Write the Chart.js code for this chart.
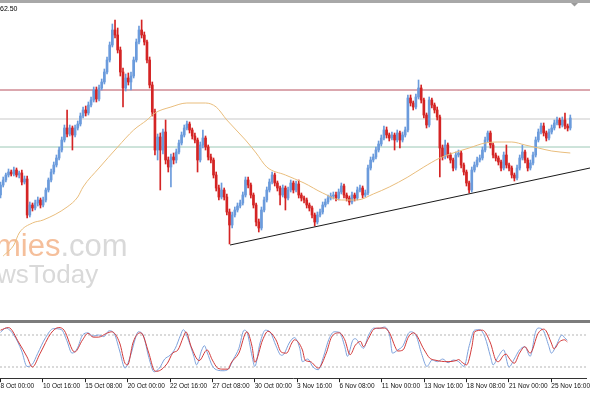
<!DOCTYPE html>
<html>
<head>
<meta charset="utf-8">
<script src="https://cdn.jsdelivr.net/npm/chart.js"></script>
<style>
  body { margin: 0; background: #fff; }
  #wrap { position: relative; width: 590px; height: 393px; overflow: hidden; background: #fff; }
  #topbar { position: absolute; left: 0; top: 0; width: 590px; height: 3px; background: #a8a8a8; }
  #mainChart { position: absolute; left: 0; top: 3px; }
  #sep { position: absolute; left: 0; top: 320px; width: 590px; height: 3px; background: #7c7c7c; }
  #stochChart { position: absolute; left: 0; top: 323px; }
</style>
</head>
<body>
<div id="wrap">
  <div id="topbar"></div>
  <canvas id="mainChart" width="590" height="317"></canvas>
  <div id="sep"></div>
  <canvas id="stochChart" width="590" height="67"></canvas>
</div>
<script>
// H4 candles, price in chart points
const opens = [
  125,135,140,145,148,146,150,145,147,138, 141,105,115,112,117,120,115,120,130,140,
  148,155,162,170,180,192,186,192,185,192, 196,204,210,207,215,220,230,221,232,238,
  248,260,275,290,285,270,248,232,242,238, 244,260,278,290,285,278,260,235,208,170,
  183,170,188,160,153,163,160,168,177,185, 192,196,190,184,180,160,175,182,173,163,
  160,145,132,123,130,123,108,95,105,110, 114,117,125,140,135,125,115,98,92,110,
  120,130,138,145,137,132,125,132,122,130, 137,130,136,125,122,120,115,112,105,98,
  105,108,115,118,122,124,125,122,128,134, 125,122,118,125,122,130,132,125,127,152,
  160,163,170,176,182,190,185,182,185,180, 187,180,185,190,222,217,213,223,232,220,
  205,195,220,215,210,203,172,163,175,165, 160,152,165,167,155,148,137,130,150,155,
  160,162,170,180,187,175,165,162,158,152, 165,155,152,145,142,152,162,168,160,152,
  157,165,180,188,194,187,182,188,192,197, 200,195,200,194,192
];
const highs = [
  138,143,147,151,150,153,152,149,150,144, 144,118,117,120,123,122,123,132,142,151,
  158,165,173,183,195,210,195,194,195,199, 207,213,214,218,223,233,233,235,241,251,
  263,278,296,300,292,273,252,246,247,248, 263,281,294,300,288,280,263,238,211,186,
  187,191,200,163,166,167,171,180,188,195, 199,198,192,187,182,178,190,184,175,166,
  162,148,135,137,132,126,111,108,113,117, 120,128,143,143,137,127,117,101,113,123,
  133,141,148,147,139,134,135,134,133,140, 139,139,140,127,124,122,117,114,107,108,
  111,118,121,125,127,128,128,131,137,136, 127,124,128,127,133,135,134,130,155,163,
  166,173,179,185,194,193,187,188,187,190, 189,188,193,225,225,219,226,240,235,222,
  207,223,222,217,213,205,175,180,177,167, 162,168,170,169,157,150,139,153,158,163,
  165,173,183,189,189,177,167,164,160,168, 175,157,154,147,155,165,175,170,162,160,
  168,183,191,197,197,189,191,195,200,203, 202,203,207,196,205
];
const lows = [
  122,133,138,143,144,144,143,142,135,136, 102,103,109,110,114,112,113,118,128,138,
  146,153,160,168,178,183,184,170,183,190, 194,202,204,205,213,218,218,219,230,236,
  246,258,273,282,267,244,213,229,235,230, 242,258,276,282,275,257,232,204,165,160,
  130,166,156,148,133,156,157,166,175,183, 190,187,181,177,148,158,172,170,160,157,
  142,129,120,121,120,105,76,92,103,108, 112,115,123,132,122,112,94,88,90,108,
  118,128,136,134,129,115,123,110,120,128, 127,128,122,119,117,112,109,102,94,96,
  103,106,113,116,120,121,119,120,126,122, 119,115,116,119,120,128,122,123,125,150,
  158,161,168,174,180,182,179,180,170,178, 172,178,183,188,214,210,211,221,217,202,
  192,193,212,207,200,143,160,161,162,157, 149,150,163,152,145,134,127,128,148,153,
  158,160,168,178,172,162,159,155,149,150, 152,149,142,139,140,150,160,157,149,150,
  155,163,178,186,184,179,180,186,190,195, 192,193,191,189,190
];
const closes = [
  135,140,145,148,146,150,145,147,138,141, 105,115,112,117,120,115,120,130,140,148,
  155,162,170,180,192,186,192,185,192,196, 204,210,207,215,220,230,221,232,238,248,
  260,275,290,285,270,248,232,242,238,244, 260,278,290,285,278,260,235,208,170,183,
  170,188,160,153,163,160,168,177,185,192, 196,190,184,180,160,175,182,173,163,160,
  145,132,123,130,123,108,95,105,110,114, 117,125,140,135,125,115,98,92,110,120,
  130,138,145,137,132,125,132,122,130,137, 130,136,125,122,120,115,112,105,98,105,
  108,115,118,122,124,125,122,128,134,125, 122,118,125,122,130,132,125,127,152,160,
  163,170,176,182,190,185,182,185,180,187, 180,185,190,222,217,213,223,232,220,205,
  195,220,215,210,203,172,163,175,165,160, 152,165,167,155,148,137,130,150,155,160,
  162,170,180,187,175,165,162,158,152,165, 155,152,145,142,152,162,168,160,152,157,
  165,180,188,194,187,182,188,192,197,200, 195,200,194,192,202
];

// moving average, read at these bars
const maBars = [1,5,7,12,16,25,29,31,37,44,50,55,58,64,70,77,81,85,92,96,100,107,114,121,128,134,140,146,153,159,165,170,176,182,188,192,197,202,207,214];
const maVals = [64,75,87,97,100,113,123,133,152,173,190,200,207,213,217,217,213,200,180,167,153,145,137,127,120,120,126,133,143,153,162,167,172,177,178,178,175,172,169,167];

// horizontal levels and trend line
const levels = [230, 201, 173];
const levelColors = ['#b8505e', '#c9c9c9', '#9cc8b6'];
const trendBars = [86.2, 221.4];
const trendVals = [75, 152];

// stochastic: signal (red) and main (blue), read at these bars
const dBars = [0,3,7,10,12,15,19,22,24,28,31,33,35,37,40,42,45,47,48,50,52,53,56,58,59,63,65,67,69,70,72,75,78,80,82,84,86,87,90,93,95,96,99,101,104,106,108,110,111,114,115,117,120,123,125,128,130,132,134,136,137,139,141,143,145,147,149,150,152,154,156,160,162,164,169,172,173,174,176,178,179,182,185,187,188,190,191,192,194,196,198,200,203,205,206,208,209,211,213,214];
const dVals = [89,94,65,39,20,46,83,94,89,48,71,83,76,76,83,86,65,27,24,65,83,84,46,14,12,27,46,52,76,86,58,32,52,33,18,16,16,27,46,86,58,29,71,87,71,48,46,65,71,52,33,30,18,46,76,84,71,43,61,68,58,74,91,93,93,83,58,50,52,76,84,52,37,33,30,32,34,30,24,58,86,89,65,33,30,42,44,37,27,46,58,46,83,91,88,65,54,67,71,67];
const kBars = [0,2,5,8,10,12,14,17,20,23,25,27,29,31,33,35,37,39,41,43,45,47,49,51,52,54,56,58,60,62,64,66,68,69,71,73,74,76,77,78,80,82,84,86,88,90,92,93,95,96,98,100,102,104,106,107,109,111,113,114,116,118,120,122,124,126,128,130,131,133,134,136,137,139,141,143,145,147,148,150,152,154,155,157,159,161,163,165,167,169,171,173,175,177,179,181,183,185,186,188,190,192,194,196,198,200,202,203,205,207,208,210,212,213,214];
const kVals = [85,93,80,50,21,25,45,75,92,90,70,46,55,80,84,78,80,77,88,82,50,18,40,75,86,78,38,11,18,35,42,55,80,90,70,40,24,52,60,48,22,14,13,16,35,55,89,86,40,21,65,89,84,60,42,44,65,75,55,30,35,20,15,40,72,86,85,58,40,70,73,60,55,80,93,92,95,78,46,52,60,83,86,78,45,21,33,30,35,28,33,30,21,60,89,90,75,40,24,40,52,20,35,52,58,40,85,93,88,60,46,62,80,75,70];

const tickBars = [0,16,32,48,64,80,96,112,128,144,160,176,192,208];
const tickLabels = ['8 Oct 00:00','10 Oct 16:00','15 Oct 08:00','20 Oct 00:00','22 Oct 16:00','27 Oct 08:00','30 Oct 00:00','3 Nov 16:00','6 Nov 08:00','11 Nov 00:00','13 Nov 16:00','18 Nov 08:00','21 Nov 00:00','25 Nov 16:00'];

const X_MIN = -0.2, X_MAX = 221.4;
const UP = '#6b9bdc', DOWN = '#d42424';
const candleColor = closes.map((c, i) => c >= opens[i] ? UP : DOWN);

const pts = (xs, ys) => xs.map((x, i) => ({x: x, y: ys[i]}));
const flat = (v) => [{x: X_MIN, y: v}, {x: X_MAX, y: v}];

const overlay = {
  id: 'overlay',
  beforeDatasetsDraw(chart) {
    const c = chart.ctx;
    c.save();
    c.font = '31px "Liberation Sans", Arial, sans-serif';
    c.fillStyle = '#f5bf9b';
    c.fillText('mies', -5, 253);
    const w = c.measureText('mies').width;
    c.fillStyle = '#d9d9d9';
    c.fillText('.com', -5 + w, 253);
    c.font = '26px "Liberation Sans", Arial, sans-serif';
    c.fillText('wsToday', -3, 280);
    c.font = '7px "Liberation Sans", Arial, sans-serif';
    c.fillStyle = '#000';
    c.fillText('62.50', 0, 8);
    c.fillStyle = '#9a9a9a';
    c.beginPath();
    c.moveTo(571, 0); c.lineTo(578, 0); c.lineTo(574.5, 3.5); c.closePath();
    c.fill();
    c.restore();
  }
};

const lineStyle = {type: 'line', pointRadius: 0, borderWidth: 1, fill: false};

new Chart(document.getElementById('mainChart'), {
  type: 'bar',
  data: {
    datasets: [
      {...lineStyle, data: pts(trendBars, trendVals), borderColor: '#1a1a1a'},
      {...lineStyle, data: pts(maBars, maVals), borderColor: '#e9bd7c', cubicInterpolationMode: 'monotone'},
      {data: closes.map((c, i) => ({x: i, y: [opens[i], c]})), backgroundColor: candleColor,
        barThickness: 2, grouped: false, minBarLength: 1},
      {data: closes.map((c, i) => ({x: i, y: [lows[i], highs[i]]})), backgroundColor: candleColor,
        barThickness: 1, grouped: false},
      ...levels.map((v, i) => ({...lineStyle, data: flat(v), borderColor: levelColors[i]}))
    ]
  },
  options: {
    responsive: false,
    animation: false,
    layout: {padding: 0},
    plugins: {legend: {display: false}, tooltip: {enabled: false}},
    scales: {
      x: {type: 'linear', min: X_MIN, max: X_MAX, offset: false, display: false},
      y: {min: 0, max: 317, display: false}
    }
  },
  plugins: [overlay]
});

new Chart(document.getElementById('stochChart'), {
  type: 'line',
  data: {
    datasets: [
      {...lineStyle, data: pts(dBars, dVals), borderColor: '#d23a3a', cubicInterpolationMode: 'monotone'},
      {...lineStyle, data: pts(kBars, kVals), borderColor: '#7ea2dc', cubicInterpolationMode: 'monotone'},
      {...lineStyle, data: flat(80), borderColor: '#b5b5b5', borderDash: [2, 2]},
      {...lineStyle, data: flat(20), borderColor: '#b5b5b5', borderDash: [2, 2]}
    ]
  },
  options: {
    responsive: false,
    animation: false,
    layout: {padding: 0},
    plugins: {legend: {display: false}, tooltip: {enabled: false}},
    scales: {
      x: {
        type: 'linear', min: X_MIN, max: X_MAX, offset: false,
        afterBuildTicks: (s) => { s.ticks = tickBars.map(v => ({value: v})); },
        ticks: {
          autoSkip: false, maxRotation: 0, align: 'start', padding: 0, color: '#111',
          font: {family: '"Liberation Sans", Arial, sans-serif', size: 6.5},
          callback: (v) => tickLabels[tickBars.indexOf(v)]
        },
        grid: {drawOnChartArea: false, tickLength: 4, color: '#222'},
        border: {color: '#333'}
      },
      y: {min: -1, max: 102.5, display: false}
    }
  }
});
</script>
</body>
</html>
